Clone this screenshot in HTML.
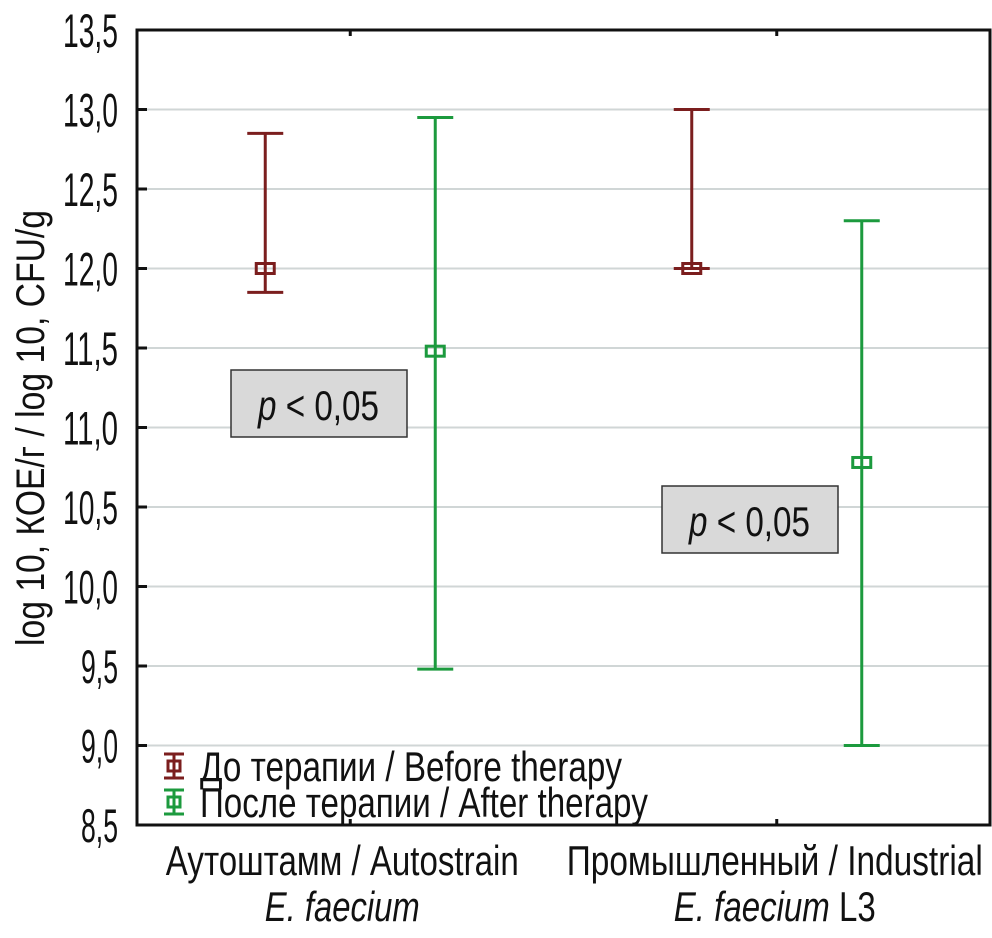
<!DOCTYPE html>
<html><head><meta charset="utf-8"><style>
body{margin:0;background:#fff;}
svg text{font-family:"Liberation Sans","Noto Sans CJK SC",sans-serif;fill:#111;}
</style></head><body>
<svg id="c" width="992" height="933" xmlns="http://www.w3.org/2000/svg"></svg>
<script>
const categories=["Аутоштамм / Autostrain","Промышленный / Industrial"];
const beforeMean=[12.0,12.0];
const beforeLow=[11.85,12.0];
const beforeHigh=[12.85,13.0];
const afterMean=[11.48,10.78];
const afterLow=[9.48,9.0];
const afterHigh=[12.95,12.3];
const yTicks=[8.5,9.0,9.5,10.0,10.5,11.0,11.5,12.0,12.5,13.0,13.5];
const yTickLabels=["8,5","9,0","9,5","10,0","10,5","11,0","11,5","12,0","12,5","13,0","13,5"];
const L=137,R=990,T=30,B=825,yMin=8.5,yMax=13.5;
const y=v=>B-(v-yMin)/(yMax-yMin)*(B-T);
const xc=i=>L+(i+0.5)*(R-L)/categories.length;
const svg=document.getElementById('c');
const NS="http://www.w3.org/2000/svg";
function el(t,a,p){const e=document.createElementNS(NS,t);for(const k in a)e.setAttribute(k,a[k]);(p||svg).appendChild(e);return e;}
function fit(e,len){e.setAttribute('textLength',len);e.setAttribute('lengthAdjust','spacingAndGlyphs');}
yTicks.forEach((v,i)=>{
 if(i>0&&i<yTicks.length-1){const g=el('line',{x1:L,x2:R,y1:y(v),y2:y(v),stroke:'#d0d6d6','stroke-width':2});
 
 }
 const tk=el('line',{x1:L,x2:L+10,y1:y(v),y2:y(v),stroke:'#111','stroke-width':3});
 
 
 const t=el('text',{x:118,y:y(v)+17,'text-anchor':'end','font-size':47});
 t.textContent=yTickLabels[i];
 fit(t,yTickLabels[i].length===3?37:55);
 
 
});
const frame=el('rect',{x:L,y:T,width:R-L,height:B-T,fill:'none',stroke:'#111','stroke-width':3});


categories.forEach((c,i)=>{
 el('line',{x1:xc(i),x2:xc(i),y1:T,y2:T+6,stroke:'#111','stroke-width':3});
 el('line',{x1:xc(i),x2:xc(i),y1:B,y2:B-6,stroke:'#111','stroke-width':3});
});
function bar(x,m,lo,hi,col,name){
 const g=el('g',{});
 
 
 el('line',{x1:x,x2:x,y1:y(hi),y2:y(lo),stroke:col,'stroke-width':3},g);
 el('line',{x1:x-18,x2:x+18,y1:y(hi),y2:y(hi),stroke:col,'stroke-width':3},g);
 el('line',{x1:x-18,x2:x+18,y1:y(lo),y2:y(lo),stroke:col,'stroke-width':3},g);
 el('rect',{x:x-9,y:y(m)-5,width:18,height:10,fill:'none',stroke:col,'stroke-width':3},g);
}
categories.forEach((c,i)=>{
 bar(xc(i)-85,beforeMean[i],beforeLow[i],beforeHigh[i],'#7b1e1e','before-errorbar-'+(i+1));
 bar(xc(i)+85,afterMean[i],afterLow[i],afterHigh[i],'#1c9a3e','after-errorbar-'+(i+1));
});
const boxes=[[231,370],[662,486]];
boxes.forEach((b,i)=>{
 const g=el('g',{});
 
 
 el('rect',{x:b[0],y:b[1],width:176,height:67,fill:'#d9d9d9',stroke:'#333','stroke-width':1.5},g);
 const t=el('text',{x:b[0]+27,y:b[1]+50,'font-size':42},g);
 t.innerHTML='<tspan font-style="italic">p</tspan> &lt; 0,05';
 fit(t,121);
});
[['До терапии / Before therapy','#7b1e1e',766,422],['После терапии / After therapy','#1c9a3e',802,448]].forEach((l,i)=>{
 const g=el('g',{});
 
 
 const x=174,yy=l[2];
 el('line',{x1:x,x2:x,y1:yy-12,y2:yy+12,stroke:l[1],'stroke-width':3},g);
 el('line',{x1:x-10,x2:x+10,y1:yy-12,y2:yy-12,stroke:l[1],'stroke-width':3},g);
 el('line',{x1:x-10,x2:x+10,y1:yy+12,y2:yy+12,stroke:l[1],'stroke-width':3},g);
 el('rect',{x:x-6,y:yy-5,width:12,height:10,fill:'none',stroke:l[1],'stroke-width':3},g);
 const t=el('text',{x:200,y:yy+15,'font-size':42},g);t.textContent=l[0];
 fit(t,l[3]);
});
const catLens=[353,416],subLens=[155,202],catShift=[-8,-2];
categories.forEach((c,i)=>{
 const t=el('text',{x:xc(i)+catShift[i],y:875,'text-anchor':'middle','font-size':42});t.textContent=c;
 fit(t,catLens[i]);
 
 
 const t2=el('text',{x:xc(i)+catShift[i],y:921,'text-anchor':'middle','font-size':42});
 t2.innerHTML=i==0?'<tspan font-style="italic">E. faecium</tspan>':'<tspan font-style="italic">E. faecium</tspan> L3';
 fit(t2,subLens[i]);
 
 
});
const yt=el('text',{x:0,y:0,'text-anchor':'middle','font-size':40,transform:'translate(44,428) rotate(-90)'});
yt.textContent='log 10, КОЕ/г / log 10, CFU/g';
fit(yt,436);


</script>
</body></html>
